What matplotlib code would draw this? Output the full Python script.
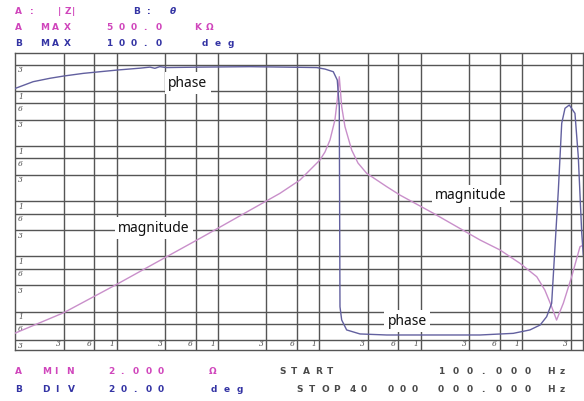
import matplotlib
matplotlib.use("Agg")
from matplotlib import pyplot as plt
from matplotlib.ticker import NullLocator

# impedance sweep
mag_freq = [100, 300, 1000, 3110, 6630, 20600, 40800, 64200, 101000, 113300, 127000, 142000,
            149800, 156800, 165600, 178400, 207800, 239700, 292000, 460000, 622000, 1.33e6,
            3.83e6, 6.03e6, 9.49e6, 1.39e7, 1.67e7, 1.95e7, 2.18e7, 2.54e7, 3.07e7, 3.71e7, 4.0e7]
mag_ohm = [4.06, 9.5, 31.1, 98.8, 213, 690, 1400, 2440, 5630, 7870, 13000, 30000,
           69200, 183000, 52300, 22700, 8550, 4970, 3230, 1850, 1300, 607,
           199, 131, 75, 42.8, 24.5, 12.2, 7.0, 14.1, 42.8, 150, 161]

phase_freq = [100, 150, 220, 300, 469, 684, 1037, 1700, 2130, 2380, 2660, 3110, 6630, 20600,
              60000, 93800, 113300, 136800, 149800, 156800, 159300, 165600, 185400, 250800,
              460000, 3.83e6, 8.15e6, 1.19e7, 1.5e7, 1.74e7, 1.95e7, 2.27e7, 2.45e7, 2.64e7,
              2.91e7, 3.31e7, 3.57e7, 3.86e7, 4.0e7]
phase_deg = [76.0, 80.5, 82.8, 84.3, 86.1, 87.2, 88.4, 89.6, 90.3, 89.5, 90.6, 90.0, 90.3, 90.6,
             90.2, 90.0, 89.0, 87.2, 81.6, 63.7, -70.9, -79.8, -86.5, -89.2,
             -89.9, -89.9, -88.8, -86.5, -83.2, -77.6, -68.6, 7.6, 52.5, 62.6,
             64.8, 59.2, 30.0, -21.3, -36.1]

freq_grid = [3e2, 6e2, 1e3, 3e3, 6e3, 1e4, 3e4, 6e4, 1e5, 3e5, 6e5, 1e6, 3e6, 6e6, 1e7, 3e7]
freq_lbl = ["3", "6", "1"] * 5 + ["3"]
mag_grid = [3, 6, 10, 30, 60, 100, 300, 600, 1e3, 3e3, 6e3, 1e4, 3e4, 6e4, 1e5, 3e5]
mag_lbl = ["3", "6", "1"] * 5 + ["3"]

W, H = 584, 401
grid_c = "#555555"
mag_c = "#c98fca"
ph_c = "#62609f"
pink = "#d046bc"
blue = "#3434a4"
gray = "#4a4a4a"

fig = plt.figure(figsize=(W / 100, H / 100), dpi=100)
ax = fig.add_axes([15.3 / W, 1 - 350 / H, 568 / W, 297.3 / H])
ax.set_xscale("log")
ax.set_yscale("log")
ax.set_xlim(100, 4e7)
ax.set_ylim(2, 5e5)
for a in (ax.xaxis, ax.yaxis):
    a.set_major_locator(NullLocator())
    a.set_minor_locator(NullLocator())
for s in ax.spines.values():
    s.set_color(grid_c)
    s.set_linewidth(1.0)

for f, t in zip(freq_grid, freq_lbl):
    ax.axvline(f, color=grid_c, lw=1.0, zorder=1)
    ax.annotate(t, (f, 0), xycoords=("data", "axes fraction"), xytext=(-2, 1.5),
                textcoords="offset points", ha="right", va="bottom", fontsize=5.5,
                family="DejaVu Serif", style="italic", color=gray)
for m, t in zip(mag_grid, mag_lbl):
    ax.axhline(m, color=grid_c, lw=1.0, zorder=1)
    ax.annotate(t, (0, m), xycoords=("axes fraction", "data"), xytext=(2, -1),
                textcoords="offset points", ha="left", va="top", fontsize=5.5,
                family="DejaVu Serif", style="italic", color=gray)

ax.plot(mag_freq, mag_ohm, color=mag_c, lw=1.0, zorder=3)

ax2 = ax.twinx()
ax2.set_ylim(-100, 100)
ax2.yaxis.set_major_locator(NullLocator())
ax2.yaxis.set_minor_locator(NullLocator())
for s in ax2.spines.values():
    s.set_visible(False)
ax2.plot(phase_freq, phase_deg, color=ph_c, lw=1.0, zorder=3)

box = dict(boxstyle="square,pad=0.25", fc="white", ec="none")
for tx, x, y in [("phase", 0.304, 0.898), ("magnitude", 0.244, 0.410),
                 ("magnitude", 0.802, 0.518), ("phase", 0.690, 0.0975)]:
    ax2.text(x, y, tx, transform=ax2.transAxes, ha="center", va="center", fontsize=10,
             fontweight="bold", family="Noto Sans", color="#111111", bbox=box, zorder=5)


def spaced(x, y, s, pitch, color, **kw):
    for i, ch in enumerate(s):
        fig.text((x + i * pitch) / W, 1 - y / H, ch, color=color, ha="left", va="center",
                 fontsize=6.5, fontweight="bold", **kw)


# header
spaced(15, 12, "A", 0, pink)
spaced(30, 12, ":", 0, pink)
spaced(58, 12, "|Z|", 7, pink)
spaced(133, 12, "B", 0, blue)
spaced(147, 12, ":", 0, blue)
spaced(170, 12, "θ", 0, blue, style="italic")
spaced(15, 27, "A", 0, pink)
spaced(40, 27, "MAX", 12, pink)
spaced(106, 27, "500.0", 12.5, pink)
spaced(194, 27, "KΩ", 12, pink)
spaced(15, 43, "B", 0, blue)
spaced(40, 43, "MAX", 12, blue)
spaced(106, 43, "100.0", 12.5, blue)
spaced(202, 43, "deg", 13, blue)

# footer
spaced(15, 372, "A", 0, pink)
spaced(42, 372, "MIN", 12, pink)
spaced(108, 372, "2.000", 12.5, pink)
spaced(209, 372, "Ω", 0, pink)
spaced(279, 372, "START", 12, gray)
spaced(438, 372, "100.000", 14.5, gray)
spaced(547, 372, "Hz", 13, gray)
spaced(15, 389, "B", 0, blue)
spaced(42, 389, "DIV", 13, blue)
spaced(108, 389, "20.00", 12.5, blue)
spaced(211, 389, "deg", 13, blue)
spaced(296, 389, "STOP", 12.5, gray)
spaced(350, 389, "40", 11, gray)
spaced(388, 389, "000", 12, gray)
spaced(438, 389, "000.000", 14.5, gray)
spaced(547, 389, "Hz", 13, gray)

fig.savefig("out.png", dpi=100, facecolor="white")
